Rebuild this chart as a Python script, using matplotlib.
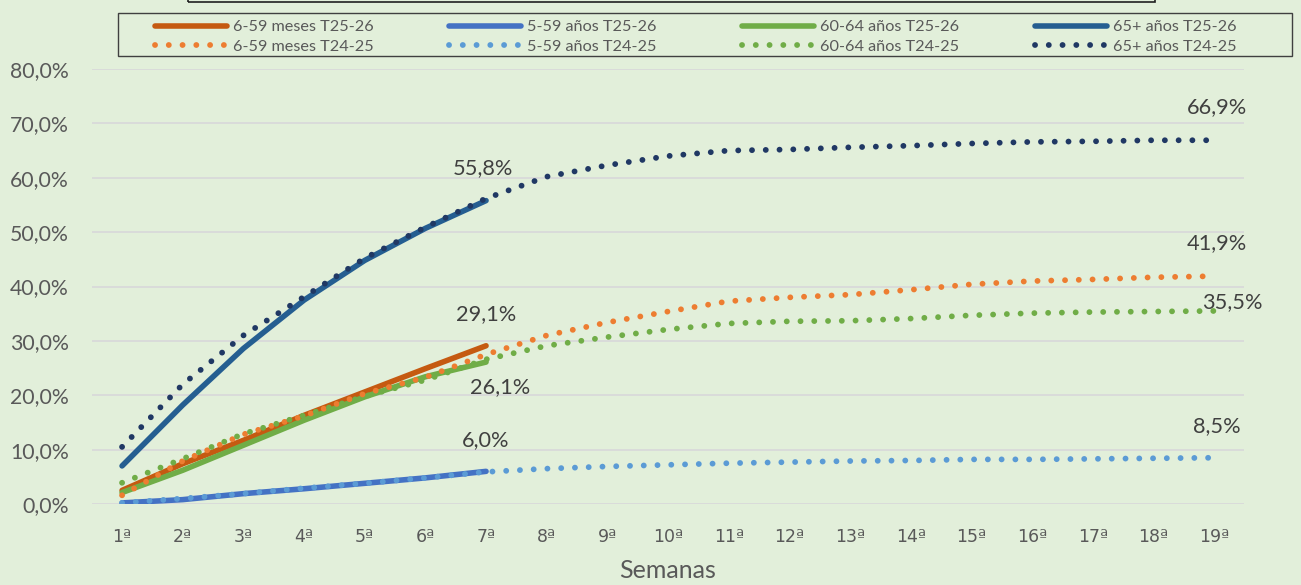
import numpy as np
import matplotlib.pyplot as plt
from matplotlib.patches import Rectangle

weeks = [f"{i}ª" for i in range(1, 20)]

# T25-26 (solid, weeks 1-7)
m659_2526 = [2.5, 7.4, 11.7, 16.3, 20.6, 24.9, 29.1]
a559_2526 = [0.2, 0.8, 1.9, 2.8, 3.8, 4.8, 6.0]
a6064_2526 = [2.1, 6.2, 10.8, 15.4, 19.7, 23.4, 26.1]
a65_2526 = [7.0, 18.2, 28.6, 37.5, 44.8, 50.7, 55.8]

# T24-25 (dotted, weeks 1-19)
m659_2425 = [1.6, 7.9, 12.8, 16.2, 20.3, 23.3, 27.5, 31.0, 33.4, 35.4, 37.3,
             38.0, 38.5, 39.4, 40.4, 41.0, 41.3, 41.7, 41.9]
a559_2425 = [0.2, 1.0, 1.9, 2.9, 3.8, 4.8, 5.9, 6.5, 6.9, 7.2, 7.5,
             7.7, 7.9, 8.0, 8.2, 8.2, 8.3, 8.4, 8.5]
a6064_2425 = [3.9, 8.3, 12.9, 16.3, 19.8, 22.8, 26.6, 29.1, 30.7, 32.1, 33.2,
              33.6, 33.7, 34.1, 34.7, 35.1, 35.3, 35.4, 35.5]
a65_2425 = [10.5, 22.0, 31.0, 38.1, 45.2, 50.9, 56.2, 60.2, 62.3, 64.0, 65.0,
            65.2, 65.6, 65.9, 66.3, 66.6, 66.7, 66.9, 66.9]

bg = "#E2EFDA"
txt = "#595959"
font = "Lato"
W, H = 1301, 585

fig = plt.figure(figsize=(13.01, 5.85), dpi=100, facecolor=bg)
ax = fig.add_axes([0.0705, 0.1385, 0.886, 0.7435], facecolor=bg)

x_s = np.arange(1, 8)
x_d = np.arange(1, 20)
dot = dict(linestyle=(0, (0.01, 2.35)), dash_capstyle="round", linewidth=4.2)
sol = dict(linestyle="-", solid_capstyle="round", linewidth=4.0)

series = [
    (x_s, m659_2526, "#C55A11", "6-59 meses T25-26", sol),
    (x_d, m659_2425, "#ED7D31", "6-59 meses T24-25", dot),
    (x_s, a559_2526, "#4472C4", "5-59 años T25-26", sol),
    (x_d, a559_2425, "#5B9BD5", "5-59 años T24-25", dot),
    (x_s, a6064_2526, "#70AD47", "60-64 años T25-26", sol),
    (x_d, a6064_2425, "#70AD47", "60-64 años T24-25", dot),
    (x_s, a65_2526, "#255E91", "65+ años T25-26", sol),
    (x_d, a65_2425, "#203864", "65+ años T24-25", dot),
]
handles = []
for xs, ys, c, name, st in series:
    z = 4 if st is sol else 5
    handles += ax.plot(xs, ys, color=c, label=name, zorder=z, **st)

ax.set_xlim(0.5, 19.5)
ax.set_ylim(0, 80)
ax.set_yticks(np.arange(0, 81, 10))
ax.set_yticklabels([f"{v:.1f}%".replace(".", ",") for v in range(0, 81, 10)],
                   fontsize=15.3, color=txt, fontname=font)
ax.set_xticks(x_d)
# DejaVu draws the ordinal sign underlined, like the original
ax.set_xticklabels(weeks, fontsize=12.5, color=txt, fontname="DejaVu Sans")
ax.tick_params(axis="both", length=0)
ax.tick_params(axis="x", pad=17)
ax.tick_params(axis="y", pad=16.5)
ax.grid(axis="y", color="#D9D9D9", linewidth=1.3)
ax.set_axisbelow(True)
for s in ax.spines.values():
    s.set_visible(False)
ax.set_xlabel("Semanas", fontsize=18, color=txt, fontname=font, labelpad=10)

lab = dict(fontsize=15.7, color="#404040", fontname=font, ha="center", va="center")
ax.text(6.95, a65_2526[-1] + 5.9, "55,8%", **lab)
ax.text(7.0, m659_2526[-1] + 5.8, "29,1%", **lab)
ax.text(7.23, a6064_2526[-1] - 4.6, "26,1%", **lab)
ax.text(7.0, a559_2526[-1] + 5.8, "6,0%", **lab)
ax.text(19.05, a65_2425[-1] + 6.1, "66,9%", **lab)
ax.text(19.05, m659_2425[-1] + 6.1, "41,9%", **lab)
ax.text(19.3, a6064_2425[-1] + 1.6, "35,5%", **lab)
ax.text(19.05, a559_2425[-1] + 5.9, "8,5%", **lab)

# legend: four fixed-width columns inside one frame
col_x = [155, 449, 742, 1035]
for i, cx in enumerate(col_x):
    fig.legend(handles=handles[2 * i:2 * i + 2], loc="upper left",
               bbox_to_anchor=(cx / W, 1 - 20 / H), frameon=False,
               prop={"family": font, "size": 11.7}, labelcolor=txt,
               handlelength=4.4, handletextpad=0.4, borderpad=0,
               labelspacing=0.33, borderaxespad=0)
fig.patches.append(Rectangle((118 / W, 1 - 56 / H), (1292 - 118) / W, 43 / H,
                             transform=fig.transFigure, facecolor="none",
                             edgecolor="#404040", linewidth=1.0))

# top of the (cut off) title box
fig.patches.append(Rectangle((188 / W, 1 - 2 / H), (1155 - 188) / W, 0.02,
                             transform=fig.transFigure, facecolor="none",
                             edgecolor="#202020", linewidth=1.2))

fig.savefig("out.png", dpi=100, facecolor=bg)
